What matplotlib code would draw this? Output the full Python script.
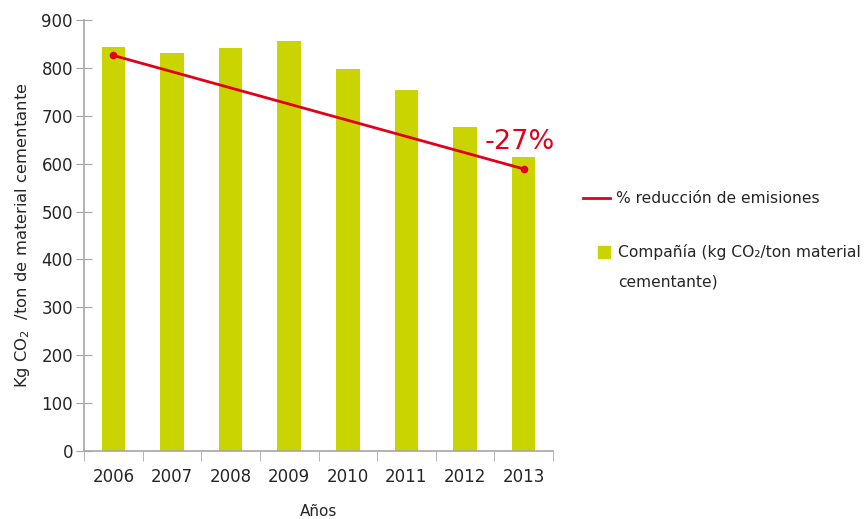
import numpy as np
from matplotlib import pyplot as plt
from matplotlib.lines import Line2D

years = ['2006', '2007', '2008', '2009', '2010', '2011', '2012', '2013']
emisiones = [843, 831, 841, 857, 797, 754, 676, 614]
# trend line only has its two end points
trend_years = ['2006', '2013']
trend_vals = [826, 589]
reduccion = '-27%'

bar_col = '#C9D400'
red = '#E3001B'
grey = '#A6A6A6'
txt = '#262626'

plt.rcParams['font.family'] = ['DejaVu Sans']

fig = plt.figure(figsize=(8.64, 5.19), dpi=100)
ax = fig.add_axes([84/864, 1-451/519, 469/864, 431/519])

x = np.arange(len(years))
ax.bar(x, emisiones, width=0.4, color=bar_col, zorder=2)
tx = [years.index(y) for y in trend_years]
ax.plot(tx, trend_vals, color=red, lw=2, marker='o', ms=4.5, zorder=3)
ax.text(tx[-1] - 0.07, trend_vals[-1] + 30, reduccion, color=red, fontsize=19.5,
	ha='center', va='bottom')

ax.set_xlim(-0.5, len(years)-0.5)
ax.set_ylim(0, 900)
ax.set_yticks(np.arange(0, 901, 100))
ax.set_xticks(x)
ax.set_xticklabels(years)
ax.set_xticks(np.arange(-0.5, len(years), 1), minor=True)
ax.tick_params(axis='x', which='major', length=0, pad=12, labelsize=12, labelcolor=txt)
ax.tick_params(axis='x', which='minor', length=7, color=grey, direction='out')
ax.tick_params(axis='y', length=12, direction='inout', color=grey, labelsize=12, labelcolor=txt, pad=2)

for s in ['top', 'right']:
	ax.spines[s].set_visible(False)
for s in ['left', 'bottom']:
	ax.spines[s].set_color(grey)
	ax.spines[s].set_linewidth(1.2)

ax.set_xlabel('Años', fontsize=11, color=txt, labelpad=13)
ax.set_ylabel('Kg CO$_2$  /ton de material cementante', fontsize=11.8, color=txt, labelpad=7)

# legend: two separate blocks so the square sits on the first text line
legA = ax.legend([Line2D([0], [0], color=red, lw=2)], ['% reducción de emisiones'],
	loc='center left', bbox_to_anchor=(1.064, 0.585), frameon=False, fontsize=11.2,
	handlelength=1.75, handletextpad=0.4, borderpad=0, borderaxespad=0)
ax.add_artist(legA)
sq = Line2D([0], [0], marker='s', ms=8, ls='none', color=bar_col)
blank = Line2D([0], [0], ls='none')
legB = ax.legend([sq, blank], ['Compañía (kg CO₂/ton material', 'cementante)'],
	loc='upper left', bbox_to_anchor=(1.0917, 0.48), frameon=False, fontsize=11.2,
	handlelength=1.0, handletextpad=0.4, borderpad=0, borderaxespad=0, labelspacing=0.95)
for lg in (legA, legB):
	for t in lg.get_texts():
		t.set_color(txt)

fig.savefig('out.png', dpi=100)
